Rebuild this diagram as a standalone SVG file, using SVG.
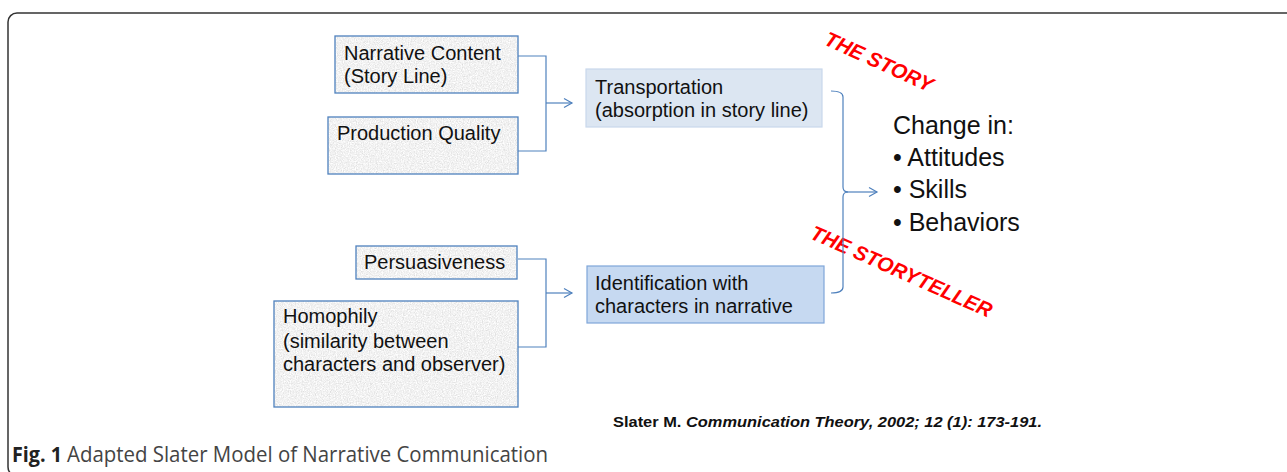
<svg xmlns="http://www.w3.org/2000/svg" width="1287" height="472" viewBox="0 0 1287 472">
<defs>
<filter id="granite" x="0" y="0" width="100%" height="100%">
<feTurbulence type="fractalNoise" baseFrequency="0.85" numOctaves="3" seed="4" result="n"/>
<feColorMatrix in="n" type="matrix" values="0.45 0 0 0 0.66  0.45 0 0 0 0.66  0.45 0 0 0 0.66  0 0 0 0 1" result="g"/>
<feComposite in="g" in2="SourceGraphic" operator="in"/>
</filter>
<marker id="arr" markerWidth="12" markerHeight="12" refX="10" refY="6" orient="auto" markerUnits="userSpaceOnUse">
<path d="M2,1.5 L10,6 L2,10.5" fill="none" stroke="#4f81bd" stroke-width="1.2"/>
</marker>
</defs>
<style>
.tex{fill:#e2e2e2;filter:url(#granite)}
.bd{fill:none;stroke:#4f81bd;stroke-width:1.3}
.t{font-family:"Liberation Sans",Arial,sans-serif;font-size:20px;fill:#111}
.big{font-family:"Liberation Sans",Arial,sans-serif;font-size:25px;fill:#111}
.red{font-family:"Liberation Sans",Arial,sans-serif;font-size:20.5px;font-weight:bold;font-style:italic;fill:#ff0000}
.con{fill:none;stroke:#4f81bd;stroke-width:1.2}
</style>
<rect x="8" y="13" width="1300" height="463" rx="9" fill="none" stroke="#333" stroke-width="1.5"/>

<g id="narrative">
<rect class="tex" x="335" y="36" width="183" height="57"/>
<rect class="bd" x="335" y="36" width="183" height="57"/>
<text class="t" x="344" y="60">Narrative Content</text>
<text class="t" x="344" y="83">(Story Line)</text>
</g>
<g id="production">
<rect class="tex" x="328" y="117" width="190" height="57"/>
<rect class="bd" x="328" y="117" width="190" height="57"/>
<text class="t" x="337" y="140">Production Quality</text>
</g>
<g id="transportation">
<rect x="586" y="69" width="236" height="58" fill="#dce6f2" stroke="#c9d8ec" stroke-width="1.2"/>
<text class="t" x="595" y="94">Transportation</text>
<text class="t" x="595" y="117">(absorption in story line)</text>
</g>
<g id="persuasiveness">
<rect class="tex" x="356" y="246" width="161" height="33"/>
<rect class="bd" x="356" y="246" width="161" height="33"/>
<text class="t" x="364" y="269">Persuasiveness</text>
</g>
<g id="homophily">
<rect class="tex" x="274" y="301" width="244" height="106"/>
<rect class="bd" x="274" y="301" width="244" height="106"/>
<text class="t" x="283" y="323">Homophily</text>
<text class="t" x="283" y="348">(similarity between</text>
<text class="t" x="283" y="371">characters and observer)</text>
</g>
<g id="identification">
<rect x="587" y="266" width="237" height="57" fill="#c6d9f1" stroke="#7fa6d9" stroke-width="1.2"/>
<text class="t" x="595" y="290">Identification with</text>
<text class="t" x="595" y="313">characters in narrative</text>
</g>
<g id="change">
<text class="big" x="893" y="134">Change in:</text>
<text class="big" x="893" y="166">• Attitudes</text>
<text class="big" x="893" y="198">• Skills</text>
<text class="big" x="893" y="231">• Behaviors</text>
</g>
<g id="labels">
<text class="red" transform="translate(823,44) rotate(24.5)">THE STORY</text>
<text class="red" transform="translate(809,238) rotate(24)">THE STORYTELLER</text>
</g>
<g id="connectors">
<path class="con" d="M518,56 H546 V151 H518"/>
<path class="con" d="M546,103 H572" marker-end="url(#arr)"/>
<path class="con" d="M518,259 H546 V347 H518"/>
<path class="con" d="M546,293 H572" marker-end="url(#arr)"/>
<path class="con" d="M831,91 Q843,91 843,97 V187 Q843,192 848,192 Q843,192 843,197 V287 Q843,293 831,293"/>
<path class="con" d="M846,192 H877" marker-end="url(#arr)"/>
</g>
<g id="citation">
<text x="613" y="427" textLength="429" lengthAdjust="spacingAndGlyphs" font-family="'Liberation Sans',Arial,sans-serif" font-size="15" font-weight="bold" fill="#111">Slater M. <tspan font-style="italic">Communication Theory, 2002; 12 (1): 173-191.</tspan></text>
</g>
<g id="caption">
<text x="12" y="462" textLength="50" lengthAdjust="spacingAndGlyphs" font-family="'Open Sans','Liberation Sans',sans-serif" font-size="21" font-weight="bold" fill="#222">Fig. 1</text>
<text x="67" y="462" textLength="481" lengthAdjust="spacingAndGlyphs" font-family="'Open Sans','Liberation Sans',sans-serif" font-size="21" fill="#444">Adapted Slater Model of Narrative Communication</text>
</g>
</svg>
